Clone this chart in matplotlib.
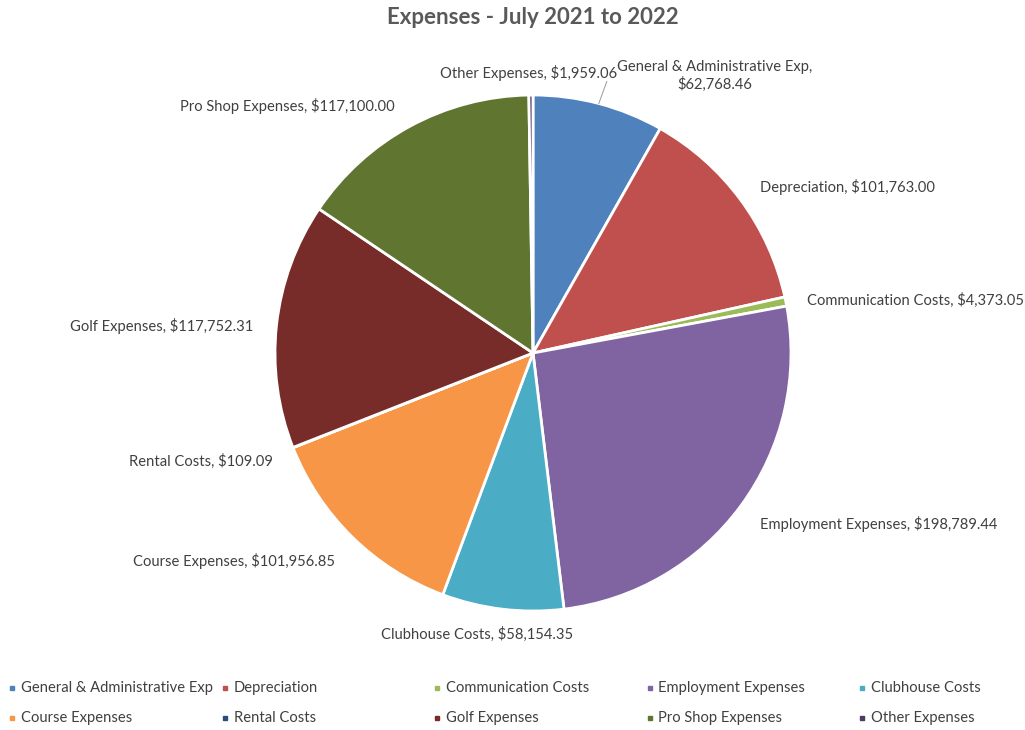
import numpy as np
import matplotlib
matplotlib.use('Agg')
import matplotlib.pyplot as plt

# data
labels = ['General & Administrative Exp', 'Depreciation', 'Communication Costs',
          'Employment Expenses', 'Clubhouse Costs', 'Course Expenses',
          'Rental Costs', 'Golf Expenses', 'Pro Shop Expenses', 'Other Expenses']
values = [62768.46, 101763.00, 4373.05, 198789.44, 58154.35, 101956.85,
          109.09, 117752.31, 117100.00, 1959.06]
colors = ['#4F81BD', '#C0504D', '#9BBB59', '#8064A2', '#4BACC6', '#F79646',
          '#2C4D75', '#772C2A', '#5F7530', '#4D3B62']

# label layout in pixels (x, y from top, ha)
label_pos = [(715, 76, 'center'), (760, 187, 'left'), (807, 300, 'left'),
             (760, 524, 'left'), (477, 634, 'center'), (335, 561, 'right'),
             (273, 461, 'right'), (253, 326, 'right'), (395, 106, 'right'),
             (617, 73, 'right')]

W, H = 1025, 730
plt.rcParams['font.family'] = ['Lato', 'DejaVu Sans']
text_color = '#404040'

fig = plt.figure(figsize=(W / 100, H / 100), dpi=100)
ax = fig.add_axes([0, 0, 1, 1])
ax.set_xlim(0, W)
ax.set_ylim(0, H)
ax.set_aspect('equal')
ax.axis('off')

cx, cy, r = 533, H - 353, 258
wedges, _ = ax.pie(values, colors=colors, startangle=90, counterclock=False,
                   center=(cx, cy), radius=r,
                   wedgeprops=dict(edgecolor='white', linewidth=2))
ax.set_xlim(0, W)
ax.set_ylim(0, H)

for i, (name, v) in enumerate(zip(labels, values)):
    txt = f'{name}, ${v:,.2f}'
    if i == 0:
        txt = f'{name},\n${v:,.2f}'
    x, y, ha = label_pos[i]
    ax.text(x, H - y, txt, ha=ha, va='center', fontsize=10.6, color=text_color,
            linespacing=1.25)

# leader line for first slice
w = wedges[0]
mid = np.deg2rad((w.theta1 + w.theta2) / 2)
ex, ey = cx + r * np.cos(mid), cy + r * np.sin(mid)
ax.plot([ex, ex + 8], [ey, ey + 22], color='#a6a6a6', lw=0.8)

ax.text(533, H - 18, 'Expenses - July 2021 to 2022', ha='center', va='center',
        fontsize=16, fontweight='bold', color='#595959')

# legend
for i, (name, c) in enumerate(zip(labels, colors)):
    col, row = i % 5, i // 5
    lx = 12 + col * 212.5
    ly = H - (688 + row * 30)
    ax.plot(lx, ly, marker='s', ms=3.2, color=c, ls='none')
    ax.text(lx + 9, ly, name, ha='left', va='center', fontsize=10.6,
            color=text_color)

fig.savefig('out.png', dpi=100, facecolor='white')
